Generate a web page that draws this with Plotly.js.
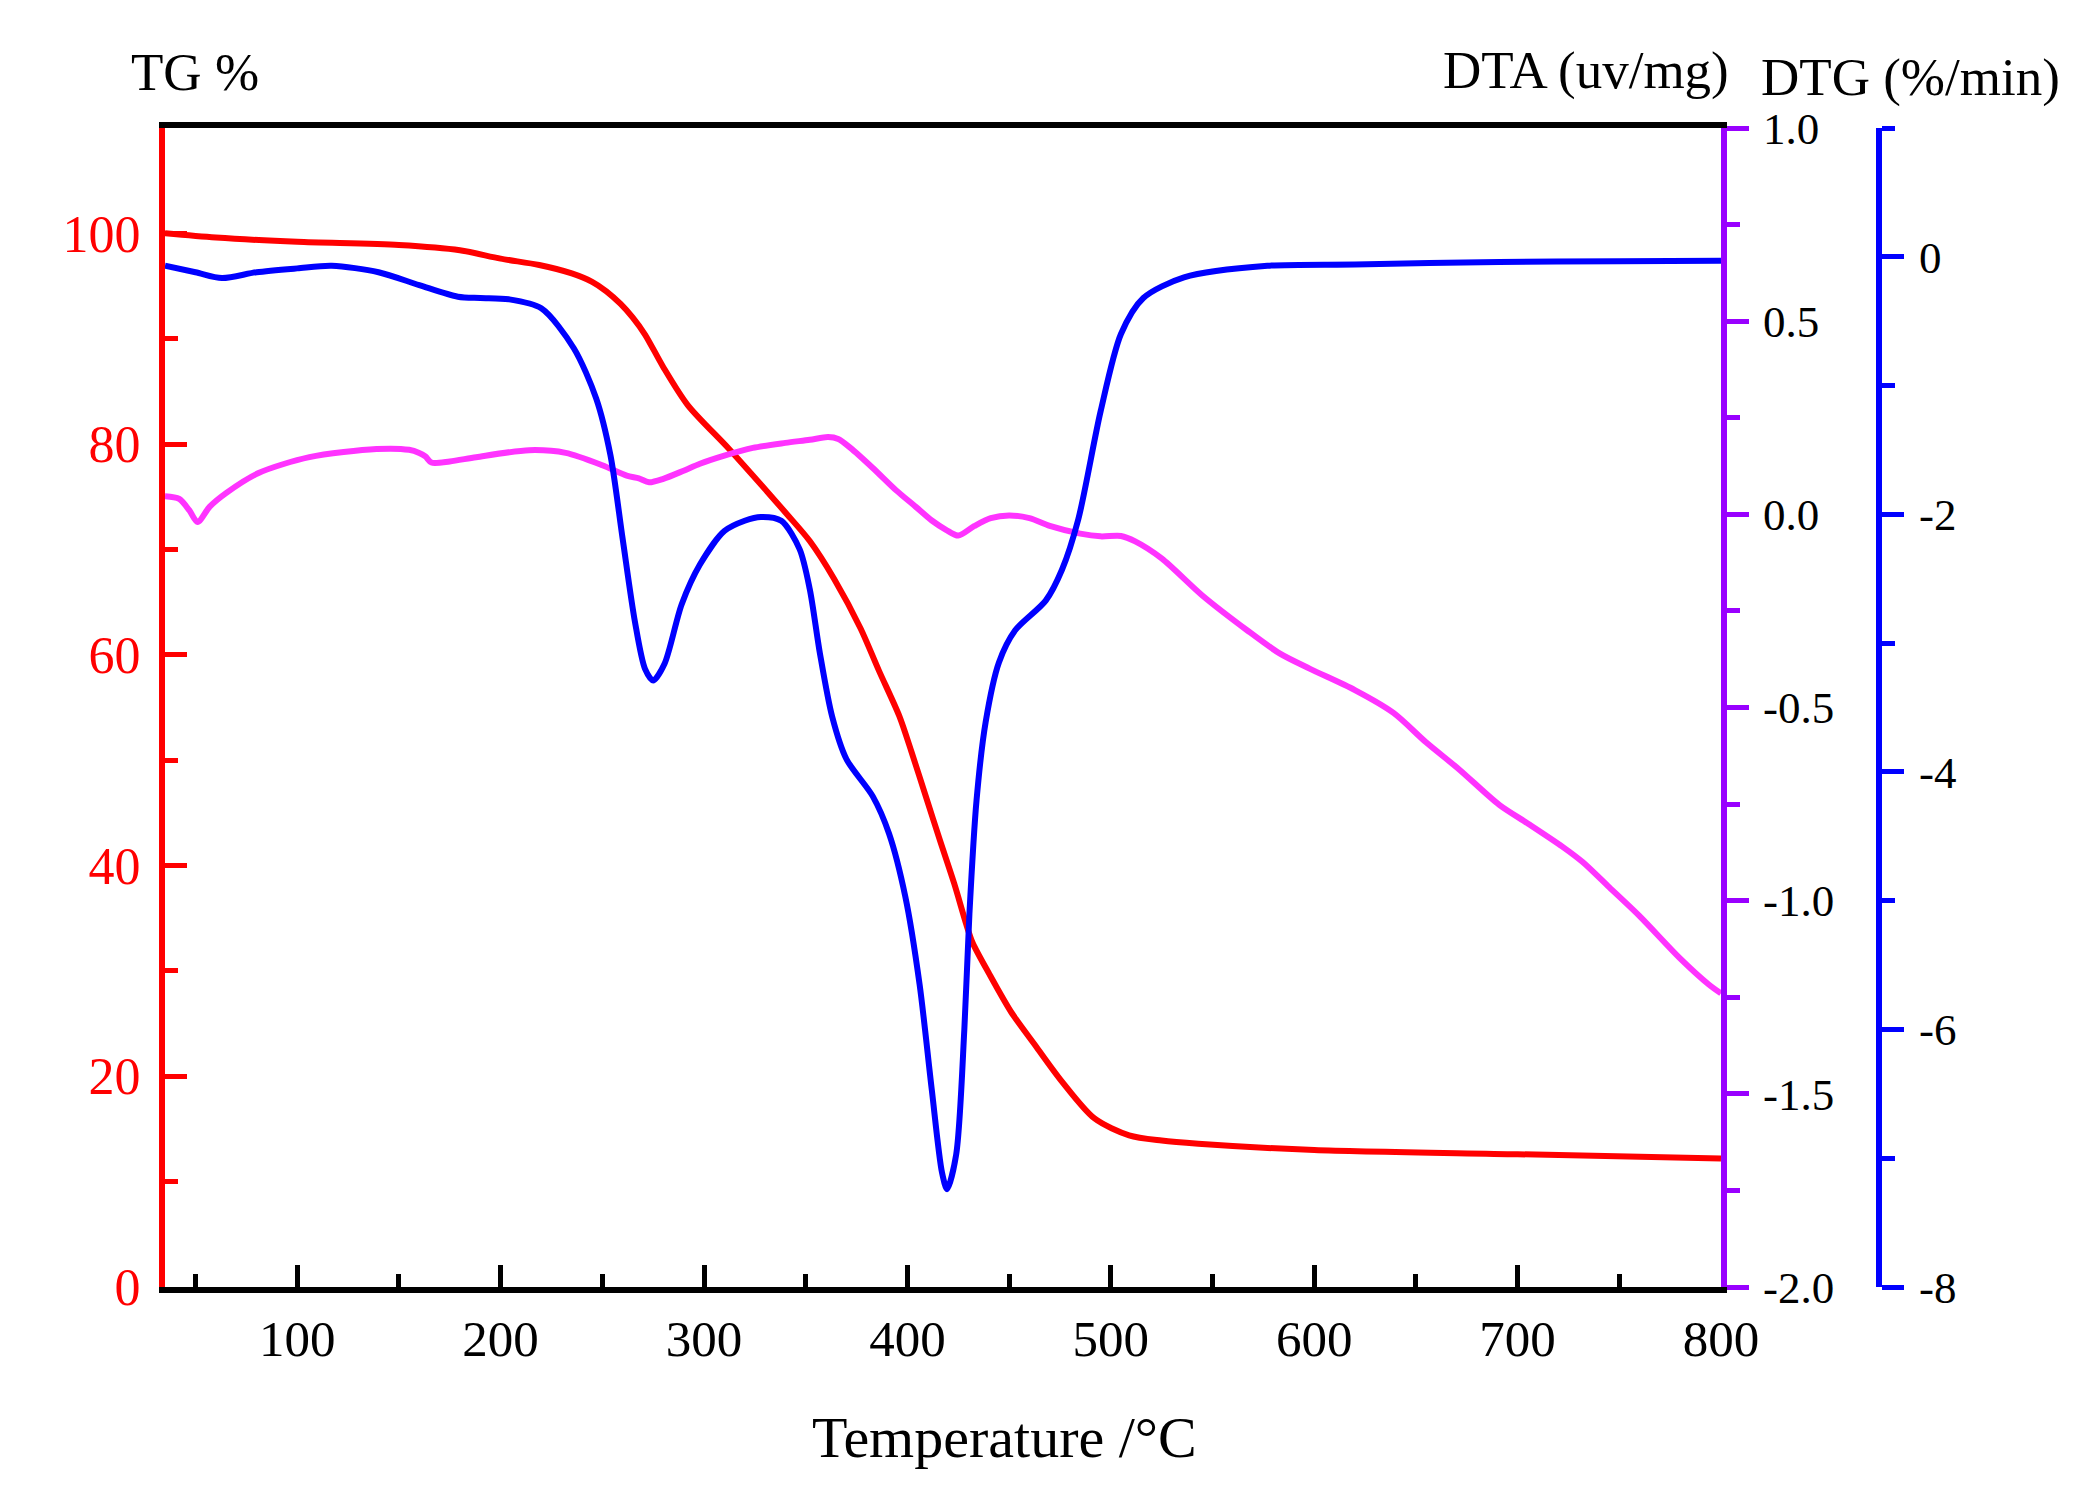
<!DOCTYPE html>
<html>
<head>
<meta charset="utf-8">
<script src="https://cdn.plot.ly/plotly-3.0.1.min.js"></script>
<style>html,body{margin:0;padding:0;background:#fff;}#chart{width:2077px;height:1506px;}</style>
</head>
<body>
<div id="chart"></div>
<script>
// TG (%) curve
const tgTemp = [35, 60, 100, 150, 180, 200, 219, 235, 245, 252, 259, 265, 271, 280, 292, 312, 331, 341, 352, 364, 377, 386, 396, 402, 409, 416, 423, 429, 432, 440, 451, 463, 476, 492, 509, 525, 543, 600, 700, 800];
const tgValues = [100.0, 99.6, 99.2, 98.9, 98.4, 97.6, 97.0, 96.2, 95.4, 94.5, 93.3, 92.0, 90.4, 87.3, 83.7, 79.6, 75.5, 73.3, 70.8, 67.2, 62.5, 58.5, 54.2, 50.8, 46.6, 42.4, 38.3, 34.4, 32.7, 29.8, 26.1, 22.9, 19.5, 16.0, 14.4, 13.9, 13.6, 13.0, 12.6, 12.2];

// DTG (%/min) curve
const dtgTemp = [35, 50, 63, 80, 100, 117, 140, 160, 179, 190, 204, 220, 236, 247, 254, 260, 266, 271, 275, 280.6, 289, 298, 310, 320, 328, 338, 347, 352, 357, 363, 370, 383, 391, 399, 406, 412, 417, 419.5, 424, 428, 430.5, 434, 438.5, 445, 453, 468, 476, 484, 495, 505, 516, 536, 577, 620, 691, 750, 800];
const dtgValues = [-0.07, -0.12, -0.165, -0.12, -0.09, -0.07, -0.12, -0.22, -0.31, -0.32, -0.33, -0.40, -0.71, -1.10, -1.54, -2.19, -2.83, -3.20, -3.29, -3.16, -2.70, -2.39, -2.13, -2.05, -2.02, -2.05, -2.27, -2.58, -3.08, -3.57, -3.90, -4.19, -4.48, -4.97, -5.65, -6.47, -7.11, -7.24, -6.97, -6.00, -5.10, -4.22, -3.61, -3.15, -2.90, -2.67, -2.43, -2.04, -1.20, -0.60, -0.32, -0.16, -0.07, -0.06, -0.04, -0.035, -0.03];

// DTA (uv/mg) curve
const dtaTemp = [35, 42, 47, 51, 57, 65, 81, 106, 139, 155, 160, 163, 166, 175, 188, 214, 232, 250, 262, 268, 273, 280, 290, 298, 310, 324, 340, 352, 361, 366, 372, 383, 394.5, 404, 412, 419, 425, 433, 441, 450, 460, 470, 485, 495, 505, 512, 525, 545, 567, 583, 598, 620, 639, 655, 671, 691, 705, 722, 732, 745, 760, 780, 794, 800];
const dtaValues = [0.047, 0.04, 0.01, -0.02, 0.02, 0.055, 0.107, 0.148, 0.169, 0.167, 0.159, 0.15, 0.134, 0.137, 0.148, 0.166, 0.159, 0.127, 0.10, 0.093, 0.083, 0.092, 0.113, 0.131, 0.152, 0.172, 0.185, 0.193, 0.20, 0.195, 0.172, 0.12, 0.062, 0.02, -0.016, -0.04, -0.055, -0.03, -0.01, -0.003, -0.01, -0.03, -0.05, -0.057, -0.056, -0.07, -0.114, -0.21, -0.30, -0.36, -0.40, -0.455, -0.514, -0.59, -0.659, -0.752, -0.80, -0.86, -0.90, -0.965, -1.04, -1.15, -1.217, -1.24];

// Tick labels
const xTickVals = [100, 200, 300, 400, 500, 600, 700, 800];
const xTickText = ["100", "200", "300", "400", "500", "600", "700", "800"];
const xMinorVals = [50, 150, 250, 350, 450, 550, 650, 750];
const tgTickVals = [0, 20, 40, 60, 80, 100];
const tgTickText = ["0", "20", "40", "60", "80", "100"];
const tgMinorVals = [10, 30, 50, 70, 90];
const dtaTickVals = [-2, -1.5, -1, -0.5, 0, 0.5, 1];
const dtaTickText = ["-2.0", "-1.5", "-1.0", "-0.5", "0.0", "0.5", "1.0"];
const dtaMinorVals = [-1.75, -1.25, -0.75, -0.25, 0.25, 0.75];
const dtgTickVals = [-8, -6, -4, -2, 0];
const dtgTickText = ["-8", "-6", "-4", "-2", "0"];
const dtgMinorVals = [-7, -5, -3, -1, 1];

const FONT = "Liberation Serif, Times New Roman, serif";
const RED = "#ff0000", MAG = "#ff33ff", PUR = "#9900ff", BLU = "#0000ff";
const LW = 6;

const traces = [
  {x: dtaTemp, y: dtaValues, yaxis: "y2", mode: "lines", line: {color: MAG, width: LW, shape: "spline", smoothing: 0.8}},
  {x: tgTemp, y: tgValues, yaxis: "y", mode: "lines", line: {color: RED, width: LW, shape: "spline", smoothing: 0.8}},
  {x: dtgTemp, y: dtgValues, yaxis: "y3", mode: "lines", line: {color: BLU, width: LW, shape: "spline", smoothing: 0.8}}
];

const layout = {
  width: 2077, height: 1506,
  margin: {l: 165, r: 198, t: 128, b: 219, pad: 0},
  paper_bgcolor: "#fff", plot_bgcolor: "#fff",
  showlegend: false,
  font: {family: FONT, color: "#000"},
  xaxis: {
    domain: [0, 0.9078], range: [35, 800],
    showline: true, linecolor: "#000", linewidth: 6, mirror: true,
    ticks: "inside", ticklen: 22, tickwidth: 5, tickcolor: "#000",
    tickmode: "array", tickvals: xTickVals, ticktext: xTickText,
    minor: {tickmode: "array", tickvals: xMinorVals, ticks: "inside", ticklen: 13, tickwidth: 5, tickcolor: "#000", showgrid: false},
    tickfont: {family: FONT, size: 51, color: "#000"},
    ticklabelstandoff: 2,
    showgrid: false, zeroline: false
  },
  yaxis: {
    range: [0, 110],
    showline: true, linecolor: RED, linewidth: 6,
    ticks: "inside", ticklen: 22, tickwidth: 5, tickcolor: RED,
    tickmode: "array", tickvals: tgTickVals, ticktext: tgTickText,
    minor: {tickmode: "array", tickvals: tgMinorVals, ticks: "inside", ticklen: 13, tickwidth: 5, tickcolor: RED, showgrid: false},
    tickfont: {family: FONT, size: 52, color: RED},
    ticklabelstandoff: 8,
    showgrid: false, zeroline: false
  },
  yaxis2: {
    overlaying: "y", side: "right", anchor: "x",
    range: [-2, 1],
    showline: true, linecolor: PUR, linewidth: 6,
    ticks: "outside", ticklen: 22, tickwidth: 5, tickcolor: PUR,
    tickmode: "array", tickvals: dtaTickVals, ticktext: dtaTickText,
    minor: {tickmode: "array", tickvals: dtaMinorVals, ticks: "outside", ticklen: 13, tickwidth: 5, tickcolor: PUR, showgrid: false},
    tickfont: {family: FONT, size: 45, color: "#000"},
    ticklabelstandoff: 5,
    showgrid: false, zeroline: false
  },
  yaxis3: {
    overlaying: "y", side: "right", anchor: "free", position: 1,
    range: [-8, 1],
    showline: true, linecolor: BLU, linewidth: 6,
    ticks: "outside", ticklen: 22, tickwidth: 5, tickcolor: BLU,
    tickmode: "array", tickvals: dtgTickVals, ticktext: dtgTickText,
    minor: {tickmode: "array", tickvals: dtgMinorVals, ticks: "outside", ticklen: 13, tickwidth: 5, tickcolor: BLU, showgrid: false},
    tickfont: {family: FONT, size: 45, color: "#000"},
    ticklabelstandoff: 6,
    showgrid: false, zeroline: false
  },
  annotations: [
    {text: "TG %", xref: "paper", yref: "paper", x: -0.021, y: 1.048, xanchor: "left", yanchor: "middle", showarrow: false, font: {family: FONT, size: 53, color: "#000"}},
    {text: "DTA (uv/mg)", xref: "paper", yref: "paper", x: 0.9137, y: 1.050, xanchor: "right", yanchor: "middle", showarrow: false, font: {family: FONT, size: 53, color: "#000"}},
    {text: "DTG (%/min)", xref: "paper", yref: "paper", x: 0.9300, y: 1.044, xanchor: "left", yanchor: "middle", showarrow: false, font: {family: FONT, size: 53, color: "#000"}},
    {text: "Temperature /°C", xref: "paper", yref: "paper", x: 0.490, y: -0.130, xanchor: "center", yanchor: "middle", showarrow: false, font: {family: FONT, size: 58, color: "#000"}}
  ]
};

Plotly.newPlot("chart", traces, layout, {staticPlot: true, displayModeBar: false});
</script>
</body>
</html>
